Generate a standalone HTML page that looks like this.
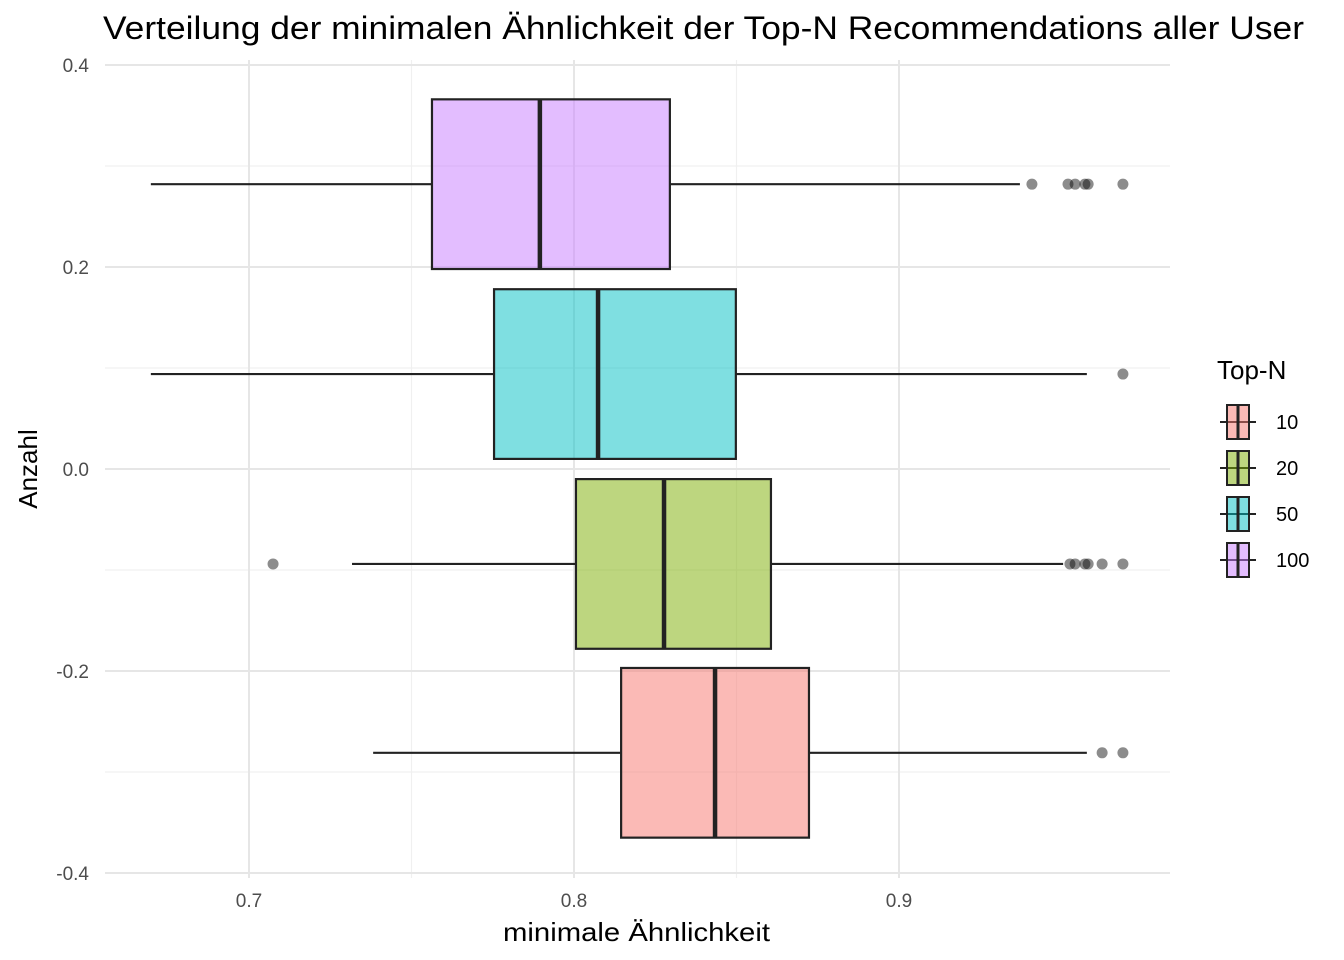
<!DOCTYPE html>
<html><head><meta charset="utf-8"><style>
html,body{margin:0;padding:0;background:#fff;}
svg{display:block;font-family:"Liberation Sans",Arial,sans-serif;}
</style></head><body>
<svg id="chart" width="1344" height="960" xmlns="http://www.w3.org/2000/svg">
<text x="103" y="39" font-size="32" textLength="1201" lengthAdjust="spacingAndGlyphs" fill="#000">Verteilung der minimalen Ähnlichkeit der Top-N Recommendations aller User</text>
<g id="grid"></g>
<g id="boxes"></g>
<text x="503" y="941" font-size="26" textLength="267" lengthAdjust="spacingAndGlyphs" fill="#000">minimale Ähnlichkeit</text>
<text transform="translate(37,469) rotate(-90)" font-size="26" text-anchor="middle" fill="#000">Anzahl</text>
<g id="legend"></g>
</svg>
<script>
const groups = ["10","20","50","100"];
const colors = ["#F8766D","#7CAE00","#00BFC4","#C77CFF"];
const yPos = [-0.281,-0.094,0.094,0.282];
const lowerWhisker = [0.7382,0.7317,0.6698,0.6698];
const q1 = [0.8145,0.8006,0.7754,0.7563];
const medians = [0.8434,0.8277,0.8074,0.7895];
const q3 = [0.8723,0.8606,0.8498,0.8295];
const upperWhisker = [0.9578,0.9505,0.9578,0.9372];
const outliers = [[0.9625,0.9689],[0.7074,0.9526,0.9542,0.9572,0.9582,0.9625,0.9689],[0.9689],[0.9409,0.952,0.9542,0.9572,0.9582,0.9689]];
const xTicks = [0.7,0.8,0.9];
const xMinor = [0.75,0.85];
const yTicks = [0.4,0.2,0.0,-0.2,-0.4];
const yTickLabels = ["0.4","0.2","0.0","-0.2","-0.4"];
const yMinor = [0.3,0.1,-0.1,-0.3];
const halfH = 0.084;

const NS="http://www.w3.org/2000/svg";
const X=v=>249+(v-0.7)*3250;
const Y=v=>469-v*1010;
function mk(parent,tag,attrs){const e=document.createElementNS(NS,tag);for(const k in attrs)e.setAttribute(k,attrs[k]);parent.appendChild(e);return e;}
const grid=document.getElementById('grid'),boxes=document.getElementById('boxes'),leg=document.getElementById('legend');
const L=105,R=1170,T=65,B=873;
yMinor.forEach(v=>{const l=mk(grid,'line',{x1:L,x2:R,y1:Y(v),y2:Y(v),stroke:'#f0f0f0','stroke-width':1.2});

});
xMinor.forEach(v=>{const l=mk(grid,'line',{x1:X(v),x2:X(v),y1:T-5,y2:B+5,stroke:'#f0f0f0','stroke-width':1.2});

});
yTicks.forEach((v,i)=>{const l=mk(grid,'line',{x1:L,x2:R,y1:Y(v),y2:Y(v),stroke:'#e6e6e6','stroke-width':2});


const t=mk(grid,'text',{x:89,y:Y(v)+7,'font-size':19,'text-anchor':'end',fill:'#4d4d4d'});t.textContent=yTickLabels[i];

});
xTicks.forEach(v=>{const l=mk(grid,'line',{x1:X(v),x2:X(v),y1:T-5,y2:B+5,stroke:'#e6e6e6','stroke-width':2});


const t=mk(grid,'text',{x:X(v),y:907,'font-size':19,'text-anchor':'middle',fill:'#4d4d4d'});t.textContent=v.toFixed(1);

});
groups.forEach((g,i)=>{
 const c=Y(yPos[i]),top=Y(yPos[i]+halfH),bot=Y(yPos[i]-halfH);
 const gg=mk(boxes,'g',{});
 
 
 mk(gg,'line',{x1:X(lowerWhisker[i]),x2:X(q1[i]),y1:c,y2:c,stroke:'#222','stroke-width':2.2});
 mk(gg,'line',{x1:X(q3[i]),x2:X(upperWhisker[i]),y1:c,y2:c,stroke:'#222','stroke-width':2.2});
 mk(gg,'rect',{x:X(q1[i]),y:top,width:X(q3[i])-X(q1[i]),height:bot-top,fill:colors[i],'fill-opacity':0.5,stroke:'#222','stroke-width':2.2});
 mk(gg,'line',{x1:X(medians[i]),x2:X(medians[i]),y1:top,y2:bot,stroke:'#222','stroke-width':4.5});
 outliers[i].forEach(o=>{const p=mk(gg,'circle',{cx:X(o),cy:c,r:5.5,fill:'#000','fill-opacity':0.45});
 
 });
});
const lt=mk(leg,'text',{x:1217,y:379,'font-size':26,fill:'#000'});lt.textContent='Top-N';


groups.forEach((g,i)=>{
 const cy=422+i*46;
 const e=mk(leg,'g',{});
 
 
 mk(e,'line',{x1:1220,x2:1256,y1:cy,y2:cy,stroke:'#222','stroke-width':2});
 mk(e,'rect',{x:1227,y:cy-17,width:22,height:34,fill:colors[i],'fill-opacity':0.5,stroke:'#222','stroke-width':2});
 mk(e,'line',{x1:1238,x2:1238,y1:cy-17,y2:cy+17,stroke:'#222','stroke-width':3});
 const t=mk(e,'text',{x:1276,y:cy+7,'font-size':20,fill:'#000'});t.textContent=g;
});
</script>
</body></html>
